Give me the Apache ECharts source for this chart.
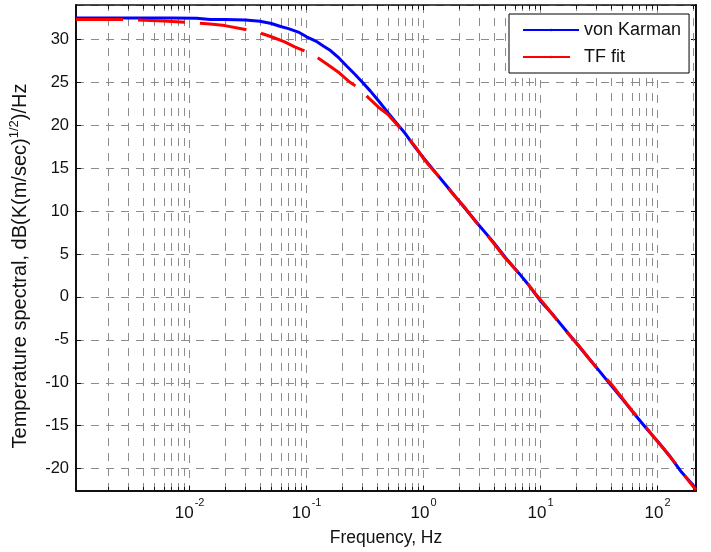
<!DOCTYPE html>
<html>
<head>
<meta charset="utf-8">
<script src="https://cdn.jsdelivr.net/npm/echarts@6/dist/echarts.min.js"></script>
<style>
html,body{margin:0;padding:0;background:#fff;}
#chart{width:711px;height:552px;}
</style>
</head>
<body>
<div id="chart"></div>
<script>
// ---- data ----
var vkFreq = [0.00107, 0.002, 0.004, 0.007, 0.0115, 0.015, 0.02, 0.03, 0.04, 0.05, 0.06, 0.07, 0.085, 0.1, 0.12, 0.14, 0.16, 0.19, 0.22, 0.26, 0.3, 0.35, 0.42, 0.5, 0.6, 0.7, 0.85, 1, 1.3, 1.6, 2, 2.5, 3, 4, 5, 6.5, 8, 10, 13, 16, 20, 25, 30, 40, 50, 65, 80, 100, 130, 160, 213];
var vkDb = [32.5, 32.5, 32.5, 32.5, 32.45, 32.3, 32.3, 32.25, 32.1, 31.85, 31.5, 31.25, 30.85, 30.3, 29.8, 29.2, 28.7, 27.8, 26.9, 25.9, 25.0, 24.0, 22.7, 21.4, 20.1, 19.0, 17.4, 16.2, 14.3, 12.8, 11.2, 9.6, 8.3, 6.3, 4.6, 2.8, 1.3, -0.5, -2.2, -3.7, -5.3, -6.9, -8.2, -10.3, -11.9, -13.8, -15.3, -16.8, -18.7, -20.4, -22.3];

var tfFreq = [0.00107, 0.003, 0.006, 0.01, 0.015, 0.02, 0.03, 0.04, 0.05, 0.065, 0.08, 0.1, 0.12, 0.15, 0.19, 0.23, 0.28, 0.35, 0.42, 0.5, 0.6, 0.7, 0.85, 1, 1.2, 1.5, 1.8, 2.2, 2.7, 3.3, 4, 5, 6, 7.5, 9, 11, 14, 17, 21, 26, 32, 40, 50, 60, 75, 90, 110, 135, 165, 213];
var tfDb = [32.3, 32.3, 32.15, 31.95, 31.8, 31.6, 31.15, 30.75, 30.3, 29.7, 29.1, 28.55, 28.0, 27.1, 26.1, 25.1, 24.3, 23.0, 22.0, 21.2, 20.0, 18.9, 17.5, 16.1, 14.8, 13.3, 11.9, 10.6, 9.0, 7.6, 6.2, 4.5, 3.3, 1.8, 0.4, -1.0, -2.8, -4.2, -5.6, -7.2, -8.7, -10.1, -11.8, -13.2, -14.7, -16.1, -17.5, -19.0, -20.6, -22.5];

var seriesNames = ['von Karman', 'TF fit'];
var xLimits = [0.00107, 213];
var yLimits = [-22.6, 34.0];
var minorMultipliers = [2, 3, 4, 5, 6, 7, 8, 9];
var decades = [0.001, 0.01, 0.1, 1, 10, 100];
var xTitle = 'Frequency, Hz';
var yTitle = 'Temperature spectral, dB(K(m/sec){s|1/2})/Hz';

// ---- build ----
var minorTicks = [];
decades.forEach(function (d) {
  minorMultipliers.forEach(function (m) {
    var v = m * d;
    if (v > xLimits[0] && v < xLimits[1]) minorTicks.push([v, 0]);
  });
});
function pairs(xs, ys) { return xs.map(function (x, i) { return [x, ys[i]]; }); }

var FONT = "'Liberation Sans', Arial, Helvetica, sans-serif";
var GRID = '#8c8c8c';
var DASH = [8, 7];

var chart = echarts.init(document.getElementById('chart'), null, {renderer: 'canvas'});
chart.setOption({
  animation: false,
  backgroundColor: '#fff',
  textStyle: {fontFamily: FONT},
  grid: {left: 76, right: 15, top: 5, bottom: 59, containLabel: false},
  legend: {
    orient: 'vertical', left: 509, top: 14,
    padding: [7, 8, 7, 13], itemGap: 9,
    itemWidth: 56, itemHeight: 3,
    backgroundColor: '#fff', borderColor: '#000', borderWidth: 1,
    textStyle: {fontSize: 18, color: '#111', fontFamily: FONT, lineHeight: 18},
    data: seriesNames
  },
  xAxis: [{
    type: 'log', logBase: 10, min: xLimits[0], max: xLimits[1],
    position: 'bottom',
    name: xTitle, nameLocation: 'middle', nameGap: 38,
    nameTextStyle: {fontSize: 17.5, color: '#111', fontFamily: FONT},
    axisLine: {show: true, onZero: false, lineStyle: {color: '#111', width: 2}},
    axisTick: {show: true, inside: true, length: 5, lineStyle: {color: '#111', width: 1}},
    axisLabel: {
      show: true, margin: 6, showMinLabel: false, showMaxLabel: false,
      formatter: function (v) { return '{b|10}{s|' + Math.round(Math.log10(v)) + '}'; },
      rich: {
        b: {fontSize: 17, color: '#111', fontFamily: FONT},
        s: {fontSize: 11, color: '#111', fontFamily: FONT, padding: [0, 0, 22, 1]}
      }
    },
    splitLine: {show: true, lineStyle: {color: GRID, width: 1, type: DASH}}
  }, {
    type: 'log', logBase: 10, min: xLimits[0], max: xLimits[1],
    position: 'top',
    axisLine: {show: true, onZero: false, lineStyle: {color: '#111', width: 1.5}},
    axisTick: {show: true, inside: true, length: 5, lineStyle: {color: '#111', width: 1}},
    axisLabel: {show: false},
    splitLine: {show: false}
  }],
  yAxis: [{
    type: 'value', min: yLimits[0], max: yLimits[1], splitNumber: 11,
    position: 'left',
    name: yTitle, nameLocation: 'middle', nameGap: 44, nameRotate: 90,
    nameTextStyle: {fontSize: 20, color: '#111', fontFamily: FONT, padding: [0, 36, 0, 0],
      rich: {s: {fontSize: 13, color: '#111', fontFamily: FONT, padding: [0, 0, 11, 0]}}},
    axisLine: {show: true, onZero: false, lineStyle: {color: '#111', width: 2}},
    axisTick: {show: true, inside: true, length: 5, lineStyle: {color: '#111', width: 1}},
    axisLabel: {show: true, margin: 7, fontSize: 16.5, color: '#111', fontFamily: FONT,
      showMinLabel: false, showMaxLabel: false},
    splitLine: {show: true, lineStyle: {color: GRID, width: 1, type: DASH}}
  }, {
    type: 'value', min: yLimits[0], max: yLimits[1], splitNumber: 11,
    position: 'right',
    axisLine: {show: true, onZero: false, lineStyle: {color: '#111', width: 2}},
    axisTick: {show: true, inside: true, length: 5, lineStyle: {color: '#111', width: 1}},
    axisLabel: {show: false},
    splitLine: {show: false}
  }],
  series: [{
    type: 'custom', name: 'minor', silent: true, z: 1,
    coordinateSystem: 'cartesian2d', xAxisIndex: 0, yAxisIndex: 0,
    encode: {x: 0, y: 1},
    data: minorTicks,
    renderItem: function (params, api) {
      var f = api.value(0);
      var b = api.coord([f, yLimits[0]]);
      var t = api.coord([f, yLimits[1]]);
      var x = Math.round(b[0]) + 0.5;
      return {type: 'group', children: [
        {type: 'line', shape: {x1: x, y1: b[1], x2: x, y2: t[1]}, style: {stroke: GRID, lineWidth: 1, lineDash: DASH}},
        {type: 'line', shape: {x1: x, y1: b[1], x2: x, y2: b[1] - 4}, style: {stroke: '#111', lineWidth: 1}},
        {type: 'line', shape: {x1: x, y1: t[1], x2: x, y2: t[1] + 4}, style: {stroke: '#111', lineWidth: 1}}
      ]};
    }
  }, {
    type: 'line', name: seriesNames[0], z: 3,
    data: pairs(vkFreq, vkDb),
    showSymbol: false, symbol: 'none', smooth: false,
    lineStyle: {color: '#0000ff', width: 3},
    itemStyle: {color: '#0000ff'}
  }, {
    type: 'line', name: seriesNames[1], z: 4,
    data: pairs(tfFreq, tfDb),
    showSymbol: false, symbol: 'none', smooth: false,
    lineStyle: {color: '#ff0000', width: 3, type: [47, 15]},
    itemStyle: {color: '#ff0000'}
  }]
});
</script>
</body>
</html>
